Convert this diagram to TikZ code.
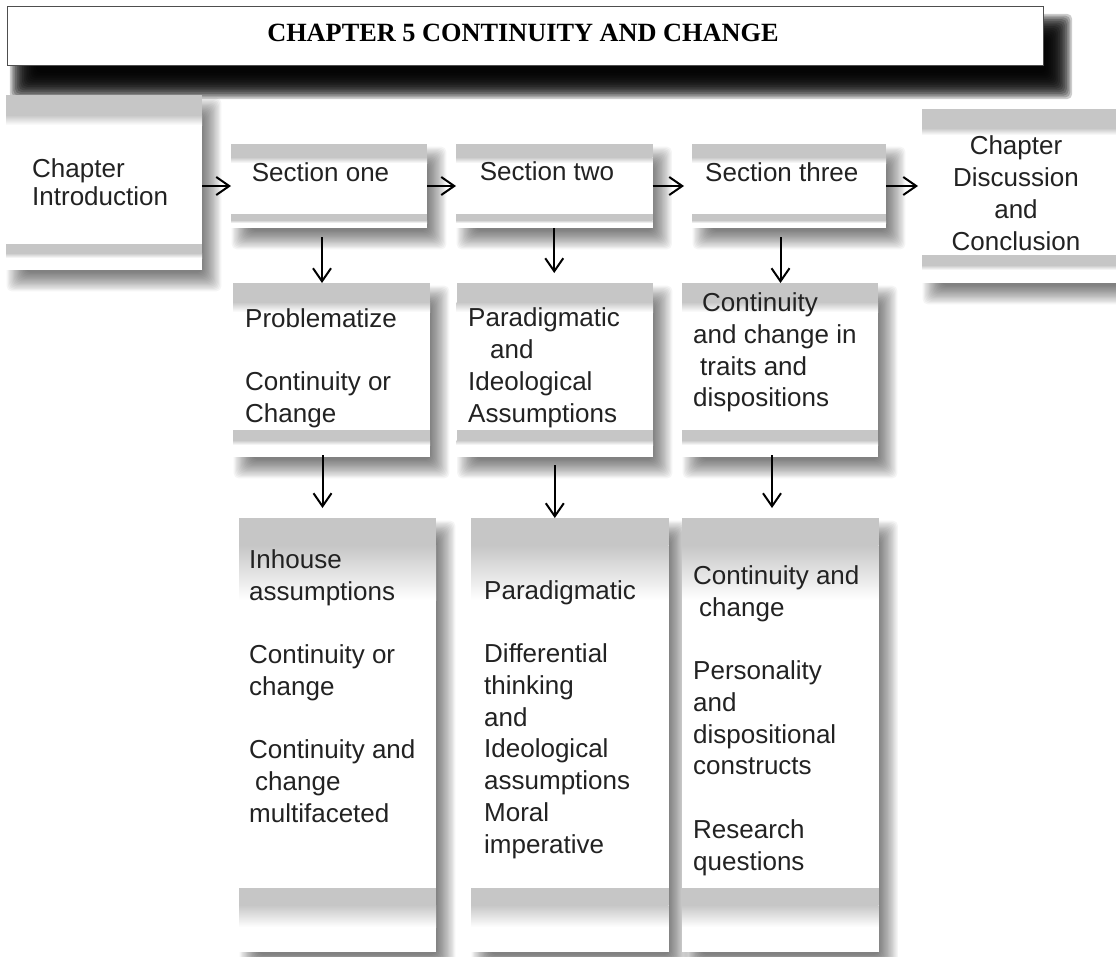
\documentclass[tikz,border=0pt]{standalone}
\usepackage{fontspec}
\setmainfont{Liberation Sans}
\newfontfamily\headfont{Liberation Serif}
\usetikzlibrary{arrows.meta,calc}
\pgfdeclarelayer{shadowlayer}
\pgfsetlayers{shadowlayer,main}
\definecolor{band}{HTML}{C6C6C6}
\definecolor{ink}{HTML}{222222}

\tikzset{
  panel/.style={fill=white, inner sep=0pt, outer sep=0pt},
  body/.style={font=\fontsize{26}{31.7}\selectfont, text=ink, align=left, anchor=base west, inner sep=0pt},
  arr/.style={line width=2pt, draw=black, -{Straight Barb[length=13pt,width=18pt,line width=2pt]}},
}

% blurred drop shadow behind a named node:
% #1 node, #2 dx, #3 dy, #4 blur radius, #5 colour, #6 opacity of each layer
\newcommand\softshadow[6]{%
  \begin{pgfonlayer}{shadowlayer}
    \foreach \k in {1,...,16}{%
      \pgfmathsetmacro\ex{#4*(1-2*(\k-0.5)/16)}%
      \fill[#5, fill opacity=#6, rounded corners=5pt]
        ($(#1.north west)+(#2-\ex,#3-\ex)$) rectangle ($(#1.south east)+(#2+\ex,#3+\ex)$);
    }
  \end{pgfonlayer}}

% white panel from (#2,#3) to (#4,#5), named #1
\newcommand\panel[5]{%
  \node[panel, minimum width={#4-#2}, minimum height={#5-#3}] (#1) at ({(#2+#4)/2},{(#3+#5)/2}) {};
  \softshadow{#1}{10}{12}{10}{black}{0.038}}

% grey bands, offsets measured from the panel top:
% #2 end of solid top band, #3 end of its fade, #4 start of bottom band, #5 end of solid part, #6 end of fade
\newcommand\bands[6]{%
  \fill[band] (#1.north west) rectangle ($(#1.north east)+(0,#2)$);
  \shade[top color=band, bottom color=white] ($(#1.north west)+(0,#2)$) rectangle ($(#1.north east)+(0,#3)$);
  \fill[band] ($(#1.north west)+(0,#4)$) rectangle ($(#1.north east)+(0,#5)$);
  \shade[top color=band, bottom color=white] ($(#1.north west)+(0,#5)$) rectangle ($(#1.north east)+(0,#6)$);
}

\begin{document}
\begin{tikzpicture}[x=1pt, y=-1pt]
\useasboundingbox (0,0) rectangle (1116,956);
\begin{pgfonlayer}{shadowlayer}
  \fill[white] (0,0) rectangle (1116,956);
\end{pgfonlayer}

% heading
\node[panel, draw=ink!80, line width=1pt, minimum width=1036, minimum height=59] (title) at (525,35.5) {};
\softshadow{title}{16}{21}{14}{black}{0.2}
\node[anchor=base, inner sep=0pt] (titletext) at (523,41)
  {\headfont\bfseries\fontsize{26.3}{28}\selectfont CHAPTER 5 CONTINUITY AND CHANGE};

% top row
\panel{ci}{6}{95}{202}{270}
\panel{s1}{231}{144}{427}{228}
\panel{s2}{456}{144}{652.5}{228}
\panel{s3}{692}{144}{886}{228}
\panel{cd}{922}{109}{1130}{283}
\bands{ci}{20}{30}{149}{158}{163}
\bands{s1}{13}{19}{70}{76}{79}
\bands{s2}{13}{19}{70}{76}{79}
\bands{s3}{13}{19}{70}{76}{79}
\bands{cd}{19}{26}{146}{156}{161}

% middle row
\panel{p1}{233}{283}{430}{457}
\panel{p2}{456.6}{283}{653}{457}
\panel{p3}{682}{283}{878}{457}
\bands{p1}{19}{29}{147}{157}{162}
\bands{p2}{19}{29}{147}{157}{162}
\bands{p3}{19}{29}{147}{157}{162}

% bottom row
\panel{q1}{239}{518}{436}{952}
\panel{q2}{471}{518}{668.7}{952}
\panel{q3}{682}{518}{878.5}{952}
\bands{q1}{27}{82}{370}{387}{409}
\bands{q2}{27}{82}{370}{387}{409}
\bands{q3}{27}{82}{370}{387}{409}

% texts (each placed by the baseline of its last line)
\node[body, font=\fontsize{26}{28}\selectfont] (cit) at (32,205) {Chapter\\Introduction};
\node[body] (s1t) at (251.7,181.7) {Section one};
\node[body] (s2t) at (479.6,180.7) {Section two};
\node[body] (s3t) at (705,181) {Section three};
\node[body, align=center, anchor=base] (cdt) at (1016,250) {Chapter\\Discussion\\and\\Conclusion};

\node[body] (p1t) at (245,422) {Problematize\\[31pt]Continuity or\\Change};
\node[body] (p2t) at (468,422) {Paradigmatic\\\hspace*{22pt}and\\Ideological\\Assumptions};
\node[body] (p3t) at (693,406.7) {\hspace*{9pt}Continuity\\and change in\\\hspace*{7pt}traits and\\dispositions};

\node[body] (q1t) at (249,822) {Inhouse\\assumptions\\[31.7pt]Continuity or\\change\\[31.7pt]Continuity and\\\hspace*{6pt}change\\multifaceted};
\node[body] (q2t) at (484,853) {Paradigmatic\\[31.7pt]Differential\\thinking\\and\\Ideological\\assumptions\\Moral\\imperative};
\node[body] (q3t) at (693,870) {Continuity and\\\hspace*{6pt}change\\[31.7pt]Personality\\and\\dispositional\\constructs\\[31.7pt]Research\\questions};

% connectors along the top row
\draw[arr] (ci.east |- s1) -- (s1);
\draw[arr] (s1) -- (s2);
\draw[arr, shorten >=8pt] (s2) -- (s3);
\draw[arr, shorten >=4pt] (s3) -- (cd.west |- s3);

% connectors down each column
\draw[arr, shorten <=9pt] ([xshift=-7pt]s1.south) -- ([xshift=-7pt]s1.south |- p1.north);
\draw[arr, shorten >=10pt] (s2.south) -- (s2.south |- p2.north);
\draw[arr, shorten <=9pt] ([xshift=-8.5pt]s3.south) -- ([xshift=-8.5pt]s3.south |- p3.north);
\draw[arr, shorten <=-2pt, shorten >=10pt] ([xshift=-9pt]p1.south) -- ([xshift=-9pt]p1.south |- q1.north);
\draw[arr, shorten <=8pt] (p2.south) -- (p2.south |- q2.north);
\draw[arr, shorten <=-2pt, shorten >=10pt] ([xshift=-8pt]p3.south) -- ([xshift=-8pt]p3.south |- q3.north);
\end{tikzpicture}
\end{document}
